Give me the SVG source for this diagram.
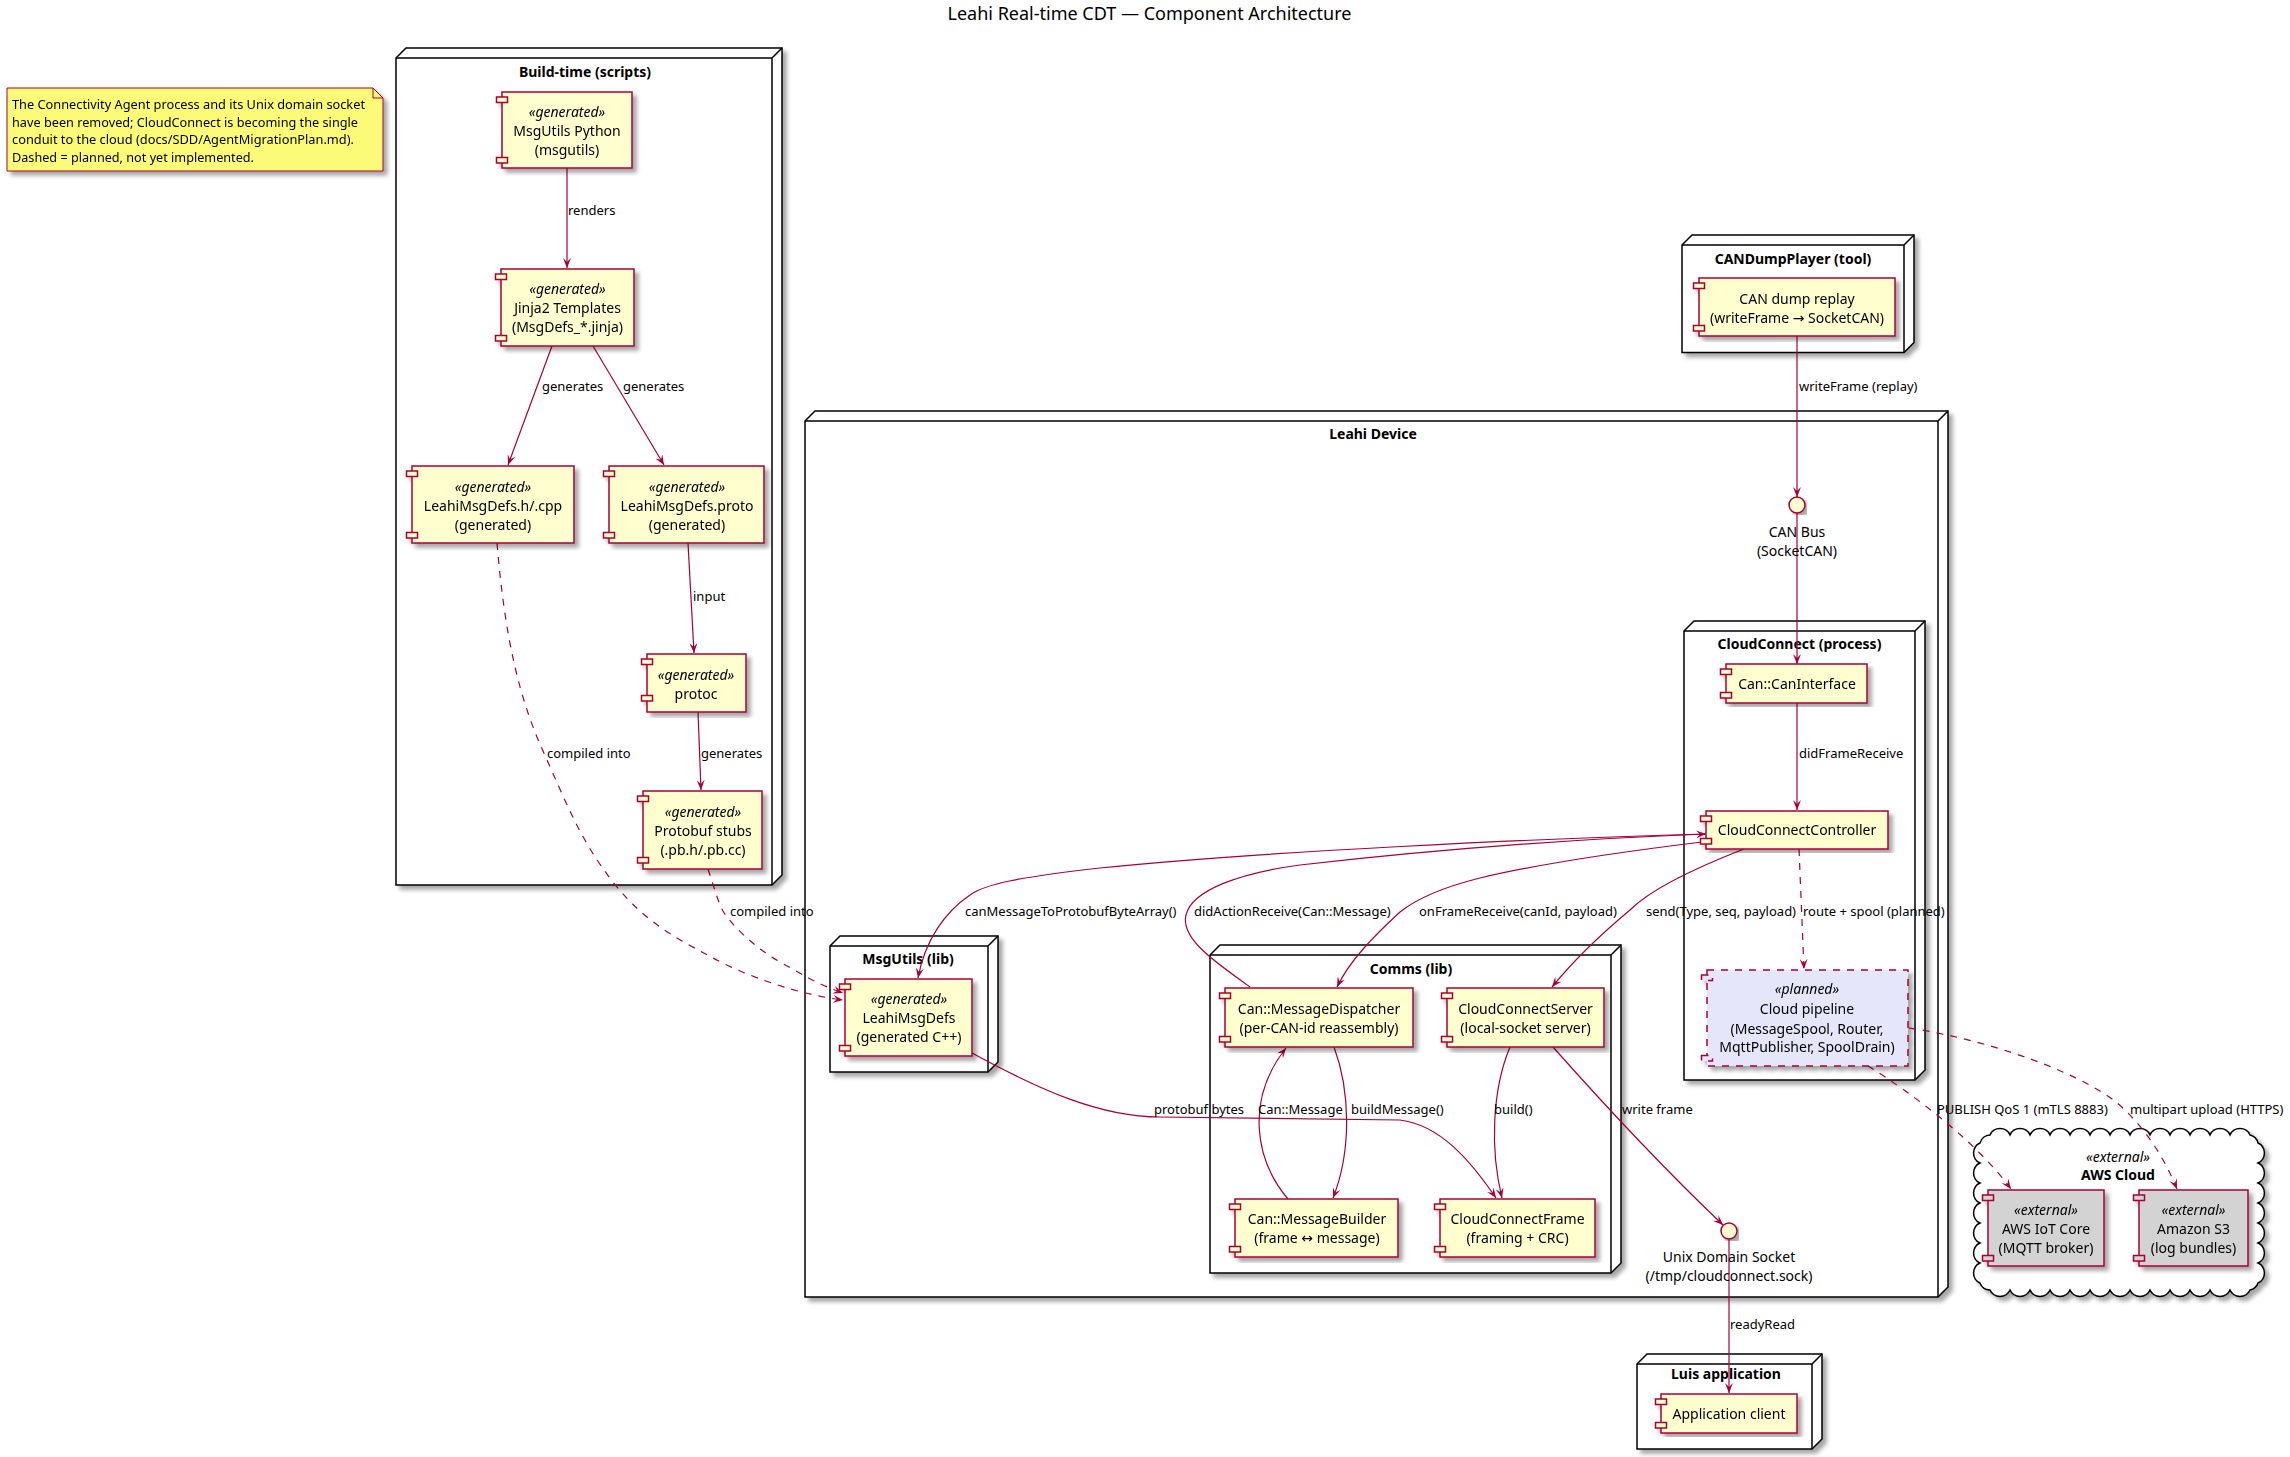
<svg xmlns="http://www.w3.org/2000/svg" width="2290" height="1457" viewBox="0 0 2290 1457">
<defs>
<style>
text{font-family:"Noto Sans","DejaVu Sans",sans-serif;fill:#000}
.title{font-size:18px}
.nt{font-size:14px;font-weight:bold}
.ct{font-size:14px}
.st{font-size:14px;font-style:italic}
.el{font-size:13px}
.note{font-size:13px}
.node{fill:#fff;stroke:#000;stroke-width:1.5}
.nline{fill:none;stroke:#000;stroke-width:1.5}
.cb{fill:#FEFECE;stroke:#A80036;stroke-width:1.5}
.ext{fill:#D3D3D3}
.plan{fill:#E6E6FA;stroke-dasharray:7,7}
.e{fill:none;stroke:#A80036;stroke-width:1.2}
.d{stroke-dasharray:7,7}
.a{marker-end:url(#ah)}
</style>
<marker id="ah" viewBox="0 0 10 8" refX="10" refY="4" markerWidth="10" markerHeight="8" orient="auto" markerUnits="userSpaceOnUse"><path d="M0,0 L10,4 L0,8 L4,4 Z" fill="#A80036"/></marker>
<filter id="sh" x="-5%" y="-5%" width="115%" height="115%"><feGaussianBlur in="SourceAlpha" stdDeviation="2"/><feColorMatrix type="matrix" values="0 0 0 0 0  0 0 0 0 0  0 0 0 0 0  0 0 0 0.35 0"/><feOffset dx="4" dy="4" result="b"/><feMerge><feMergeNode in="b"/><feMergeNode in="SourceGraphic"/></feMerge></filter>
</defs>
<rect width="2290" height="1457" fill="#fff"/>
<text class="title" x="1149.5" y="19.5" text-anchor="middle">Leahi Real-time CDT — Component Architecture</text>

<g id="note" filter="url(#sh)">
<path d="M7,88 L373,88 L383,98 L383,171 L7,171 Z" fill="#FBFB77" stroke="#A80036" stroke-width="1"/>
<path d="M373,88 L373,98 L383,98" fill="none" stroke="#A80036" stroke-width="1"/>
<text class="note" x="12" y="109" textLength="353" lengthAdjust="spacingAndGlyphs">The Connectivity Agent process and its Unix domain socket</text>
<text class="note" x="12" y="126.5" textLength="346" lengthAdjust="spacingAndGlyphs">have been removed; CloudConnect is becoming the single</text>
<text class="note" x="12" y="144" textLength="342" lengthAdjust="spacingAndGlyphs">conduit to the cloud (docs/SDD/AgentMigrationPlan.md).</text>
<text class="note" x="12" y="161.5" textLength="242" lengthAdjust="spacingAndGlyphs">Dashed = planned, not yet implemented.</text>
</g>

<!-- container nodes -->
<g id="buildtime">
<path class="node" filter="url(#sh)" d="M396,58 L406,48 L782,48 L782,875 L772,885 L396,885 Z"/>
<path class="nline" d="M396,58 L772,58 L782,48 M772,58 L772,885"/>
<text class="nt" x="585" y="77" text-anchor="middle">Build-time (scripts)</text>
</g>
<g id="candumpplayer">
<path class="node" filter="url(#sh)" d="M1682,245 L1692,235 L1914,235 L1914,342.5 L1904,352.5 L1682,352.5 Z"/>
<path class="nline" d="M1682,245 L1904,245 L1914,235 M1904,245 L1904,352.5"/>
<text class="nt" x="1793" y="264" text-anchor="middle">CANDumpPlayer (tool)</text>
</g>
<g id="leahidevice">
<path class="node" filter="url(#sh)" d="M805,421 L815,411 L1948,411 L1948,1287 L1938,1297 L805,1297 Z"/>
<path class="nline" d="M805,421 L1938,421 L1948,411 M1938,421 L1938,1297"/>
<text class="nt" x="1373" y="439" text-anchor="middle">Leahi Device</text>
</g>
<g id="cloudconnect">
<path class="node" filter="url(#sh)" d="M1684,631 L1694,621 L1925,621 L1925,1070 L1915,1080 L1684,1080 Z"/>
<path class="nline" d="M1684,631 L1915,631 L1925,621 M1915,631 L1915,1080"/>
<text class="nt" x="1799.5" y="649" text-anchor="middle">CloudConnect (process)</text>
</g>
<g id="msgutilslib">
<path class="node" filter="url(#sh)" d="M830,946 L840,936 L998,936 L998,1062 L988,1072 L830,1072 Z"/>
<path class="nline" d="M830,946 L988,946 L998,936 M988,946 L988,1072"/>
<text class="nt" x="908" y="964" text-anchor="middle">MsgUtils (lib)</text>
</g>
<g id="commslib">
<path class="node" filter="url(#sh)" d="M1210,955 L1220,945 L1621,945 L1621,1263 L1611,1273 L1210,1273 Z"/>
<path class="nline" d="M1210,955 L1611,955 L1621,945 M1611,955 L1611,1273"/>
<text class="nt" x="1411" y="974" text-anchor="middle">Comms (lib)</text>
</g>
<g id="luisapp">
<path class="node" filter="url(#sh)" d="M1637,1364 L1647,1354 L1822,1354 L1822,1439 L1812,1449 L1637,1449 Z"/>
<path class="nline" d="M1637,1364 L1812,1364 L1822,1354 M1812,1364 L1812,1449"/>
<text class="nt" x="1726" y="1379" text-anchor="middle">Luis application</text>
</g>
<g id="awscloud">
<path filter="url(#sh)" fill="#fff" stroke="#000" stroke-width="1.5" d="M1990,1135 A11,11 0 0 1 2010,1135 A11,11 0 0 1 2030,1135 A11,11 0 0 1 2050,1135 A11,11 0 0 1 2070,1135 A11,11 0 0 1 2090,1135 A11,11 0 0 1 2110,1135 A11,11 0 0 1 2130,1135 A11,11 0 0 1 2150,1135 A11,11 0 0 1 2170,1135 A11,11 0 0 1 2190,1135 A11,11 0 0 1 2210,1135 A11,11 0 0 1 2230,1135 A11,11 0 0 1 2250,1135 A11,11 0 0 1 2258,1143 A11,11 0 0 1 2258,1163 A11,11 0 0 1 2258,1183 A11,11 0 0 1 2258,1203 A11,11 0 0 1 2258,1223 A11,11 0 0 1 2258,1243 A11,11 0 0 1 2258,1263 A11,11 0 0 1 2258,1283 A11,11 0 0 1 2250,1290 A11,11 0 0 1 2230,1290 A11,11 0 0 1 2210,1290 A11,11 0 0 1 2190,1290 A11,11 0 0 1 2170,1290 A11,11 0 0 1 2150,1290 A11,11 0 0 1 2130,1290 A11,11 0 0 1 2110,1290 A11,11 0 0 1 2090,1290 A11,11 0 0 1 2070,1290 A11,11 0 0 1 2050,1290 A11,11 0 0 1 2030,1290 A11,11 0 0 1 2010,1290 A11,11 0 0 1 1990,1290 A11,11 0 0 1 1980,1283 A11,11 0 0 1 1980,1263 A11,11 0 0 1 1980,1243 A11,11 0 0 1 1980,1223 A11,11 0 0 1 1980,1203 A11,11 0 0 1 1980,1183 A11,11 0 0 1 1980,1163 A11,11 0 0 1 1980,1143 A11,11 0 0 1 1990,1135 Z"/>
<text class="st" x="2118" y="1161.5" text-anchor="middle">«external»</text>
<text class="nt" x="2118" y="1180" text-anchor="middle">AWS Cloud</text>
</g>

<!-- connectors -->
<g id="connectors">
<path class="e a" d="M567,168 L567,268"/>
<path class="e a" d="M552,346 L508,465"/>
<path class="e a" d="M593,346 L664,465"/>
<path class="e a" d="M688,543 L694,653"/>
<path class="e a" d="M698,712 L701,790"/>
<path class="e d a" d="M497,543 C505,640 520,700 543,751 S580,840 613,882 S680,940 713,958 S800,995 843,1000"/>
<path class="e d a" d="M708,869 C715,890 718,902 723,911 S750,945 780,962 S820,985 843,993"/>
<path class="e a" d="M1797,336 L1797,497"/>
<path class="e a" d="M1797,513 L1797,664"/>
<path class="e a" d="M1797,703 L1797,810"/>
<path class="e d a" d="M1799,849 L1804,969"/>
<path class="e a" d="M1706,834 C1550,838 1250,852 1100,868 C1020,877 985,884 970,895 C945,912 925,940 918,978"/>
<path class="e a" d="M1250,987 C1220,965 1180,940 1186,915 C1192,890 1240,873 1300,865 C1450,848 1600,838 1706,834"/>
<path class="e a" d="M1702,842 C1620,852 1530,866 1480,878 C1440,888 1415,900 1400,912 C1375,935 1350,960 1337,987"/>
<path class="e a" d="M1744,849 C1690,870 1650,890 1630,910 C1600,935 1570,965 1552,987"/>
<path class="e a" d="M1334,1047 C1350,1090 1352,1150 1333,1198"/>
<path class="e a" d="M1288,1199 C1255,1160 1245,1100 1286,1048"/>
<path class="e a" d="M1510,1047 C1492,1090 1490,1150 1502,1198"/>
<path class="e a" d="M972,1053 C1040,1090 1100,1117 1160,1117 L1400,1120 C1440,1125 1470,1160 1496,1198"/>
<path class="e a" d="M1553,1047 C1600,1100 1660,1165 1723,1225"/>
<path class="e a" d="M1729,1239 L1729,1393"/>
<path class="e d a" d="M1868,1066 C1910,1092 1975,1140 2011,1189"/>
<path class="e d a" d="M1909,1028 C1990,1040 2090,1075 2125,1110 C2150,1135 2165,1160 2177,1189"/>
<text class="el" x="568" y="215">renders</text>
<text class="el" x="542" y="391">generates</text>
<text class="el" x="623" y="391">generates</text>
<text class="el" x="693" y="601">input</text>
<text class="el" x="701" y="758">generates</text>
<text class="el" x="547" y="758">compiled into</text>
<text class="el" x="730" y="916">compiled into</text>
<text class="el" x="1799" y="391">writeFrame (replay)</text>
<text class="el" x="1799" y="758">didFrameReceive</text>
<text class="el" x="965" y="916">canMessageToProtobufByteArray()</text>
<text class="el" x="1194" y="916">didActionReceive(Can::Message)</text>
<text class="el" x="1419" y="916">onFrameReceive(canId, payload)</text>
<text class="el" x="1646" y="916">send(Type, seq, payload)</text>
<text class="el" x="1803" y="916">route + spool (planned)</text>
<text class="el" x="1154" y="1113.5">protobuf bytes</text>
<text class="el" x="1258" y="1113.5">Can::Message</text>
<text class="el" x="1351" y="1113.5">buildMessage()</text>
<text class="el" x="1494" y="1113.5">build()</text>
<text class="el" x="1622" y="1114">write frame</text>
<text class="el" x="1937" y="1114">PUBLISH QoS 1 (mTLS 8883)</text>
<text class="el" x="2130" y="1114">multipart upload (HTTPS)</text>
<text class="el" x="1730" y="1329">readyRead</text>
</g>

<!-- leaf components -->
<g id="msgutils_python" filter="url(#sh)">
<rect class="cb" x="502" y="92" width="130" height="76"/>
<rect class="cb" x="496.5" y="97" width="11" height="5.5"/><rect class="cb" x="496.5" y="157.5" width="11" height="5.5"/>
<text class="st" x="567" y="117" text-anchor="middle">«generated»</text>
<text class="ct" x="567" y="136" text-anchor="middle">MsgUtils Python</text>
<text class="ct" x="567" y="155" text-anchor="middle">(msgutils)</text>
</g>
<g id="jinja2" filter="url(#sh)">
<rect class="cb" x="501" y="269" width="133" height="77"/>
<rect class="cb" x="495.5" y="274" width="11" height="5.5"/><rect class="cb" x="495.5" y="335.5" width="11" height="5.5"/>
<text class="st" x="567.5" y="294" text-anchor="middle">«generated»</text>
<text class="ct" x="567.5" y="313" text-anchor="middle">Jinja2 Templates</text>
<text class="ct" x="567.5" y="332" text-anchor="middle">(MsgDefs_*.jinja)</text>
</g>
<g id="leahimsgdefs_hcpp" filter="url(#sh)">
<rect class="cb" x="412" y="466" width="162" height="77"/>
<rect class="cb" x="406.5" y="471" width="11" height="5.5"/><rect class="cb" x="406.5" y="532.5" width="11" height="5.5"/>
<text class="st" x="493" y="491.5" text-anchor="middle">«generated»</text>
<text class="ct" x="493" y="511" text-anchor="middle">LeahiMsgDefs.h/.cpp</text>
<text class="ct" x="493" y="530" text-anchor="middle">(generated)</text>
</g>
<g id="leahimsgdefs_proto" filter="url(#sh)">
<rect class="cb" x="609" y="466" width="155" height="77"/>
<rect class="cb" x="603.5" y="471" width="11" height="5.5"/><rect class="cb" x="603.5" y="532.5" width="11" height="5.5"/>
<text class="st" x="687" y="491.5" text-anchor="middle">«generated»</text>
<text class="ct" x="687" y="511" text-anchor="middle">LeahiMsgDefs.proto</text>
<text class="ct" x="687" y="530" text-anchor="middle">(generated)</text>
</g>
<g id="protoc" filter="url(#sh)">
<rect class="cb" x="647" y="654" width="99" height="58"/>
<rect class="cb" x="641.5" y="659" width="11" height="5.5"/><rect class="cb" x="641.5" y="695.5" width="11" height="5.5"/>
<text class="st" x="696" y="680" text-anchor="middle">«generated»</text>
<text class="ct" x="696" y="699" text-anchor="middle">protoc</text>
</g>
<g id="protobuf_stubs" filter="url(#sh)">
<rect class="cb" x="643" y="791" width="119" height="78"/>
<rect class="cb" x="637.5" y="796" width="11" height="5.5"/><rect class="cb" x="637.5" y="857.5" width="11" height="5.5"/>
<text class="st" x="703" y="816.5" text-anchor="middle">«generated»</text>
<text class="ct" x="703" y="835.5" text-anchor="middle">Protobuf stubs</text>
<text class="ct" x="703" y="855" text-anchor="middle">(.pb.h/.pb.cc)</text>
</g>
<g id="can_dump_replay" filter="url(#sh)">
<rect class="cb" x="1699" y="278" width="196" height="58"/>
<rect class="cb" x="1693.5" y="283" width="11" height="5.5"/><rect class="cb" x="1693.5" y="325.5" width="11" height="5.5"/>
<text class="ct" x="1797" y="304" text-anchor="middle">CAN dump replay</text>
<text class="ct" x="1797" y="323" text-anchor="middle">(writeFrame → SocketCAN)</text>
</g>
<g id="can_bus">
<circle cx="1797" cy="505" r="8" fill="#FEFECE" stroke="#A80036" stroke-width="1.5" filter="url(#sh)"/>
<text class="ct" x="1797" y="537" text-anchor="middle">CAN Bus</text>
<text class="ct" x="1797" y="556" text-anchor="middle">(SocketCAN)</text>
</g>
<g id="can_interface" filter="url(#sh)">
<rect class="cb" x="1726" y="664" width="141" height="39"/>
<rect class="cb" x="1720.5" y="669" width="11" height="5.5"/><rect class="cb" x="1720.5" y="692.5" width="11" height="5.5"/>
<text class="ct" x="1797" y="689" text-anchor="middle">Can::CanInterface</text>
</g>
<g id="cloudconnect_controller" filter="url(#sh)">
<rect class="cb" x="1706" y="811" width="182" height="38"/>
<rect class="cb" x="1700.5" y="816" width="11" height="5.5"/><rect class="cb" x="1700.5" y="838.5" width="11" height="5.5"/>
<text class="ct" x="1797" y="835" text-anchor="middle">CloudConnectController</text>
</g>
<g id="cloud_pipeline" filter="url(#sh)">
<rect class="cb plan" x="1707" y="970" width="201" height="96"/>
<rect class="cb plan" x="1701.5" y="975" width="11" height="5.5"/><rect class="cb plan" x="1701.5" y="1055.5" width="11" height="5.5"/>
<text class="st" x="1807" y="994" text-anchor="middle">«planned»</text>
<text class="ct" x="1807" y="1014" text-anchor="middle">Cloud pipeline</text>
<text class="ct" x="1807" y="1034" text-anchor="middle">(MessageSpool, Router,</text>
<text class="ct" x="1807" y="1052" text-anchor="middle">MqttPublisher, SpoolDrain)</text>
</g>
<g id="leahimsgdefs_cpp" filter="url(#sh)">
<rect class="cb" x="845" y="979" width="127" height="77"/>
<rect class="cb" x="839.5" y="984" width="11" height="5.5"/><rect class="cb" x="839.5" y="1045.5" width="11" height="5.5"/>
<text class="st" x="909" y="1004" text-anchor="middle">«generated»</text>
<text class="ct" x="909" y="1023" text-anchor="middle">LeahiMsgDefs</text>
<text class="ct" x="909" y="1042" text-anchor="middle">(generated C++)</text>
</g>
<g id="message_dispatcher" filter="url(#sh)">
<rect class="cb" x="1225" y="988" width="188" height="59"/>
<rect class="cb" x="1219.5" y="993" width="11" height="5.5"/><rect class="cb" x="1219.5" y="1036.5" width="11" height="5.5"/>
<text class="ct" x="1319" y="1014" text-anchor="middle">Can::MessageDispatcher</text>
<text class="ct" x="1319" y="1033" text-anchor="middle">(per-CAN-id reassembly)</text>
</g>
<g id="cloudconnect_server" filter="url(#sh)">
<rect class="cb" x="1447" y="988" width="157" height="59"/>
<rect class="cb" x="1441.5" y="993" width="11" height="5.5"/><rect class="cb" x="1441.5" y="1036.5" width="11" height="5.5"/>
<text class="ct" x="1525.5" y="1014" text-anchor="middle">CloudConnectServer</text>
<text class="ct" x="1525.5" y="1033" text-anchor="middle">(local-socket server)</text>
</g>
<g id="message_builder" filter="url(#sh)">
<rect class="cb" x="1235" y="1199" width="163" height="58"/>
<rect class="cb" x="1229.5" y="1204" width="11" height="5.5"/><rect class="cb" x="1229.5" y="1246.5" width="11" height="5.5"/>
<text class="ct" x="1317" y="1224" text-anchor="middle">Can::MessageBuilder</text>
<text class="ct" x="1317" y="1243" text-anchor="middle">(frame ↔ message)</text>
</g>
<g id="cloudconnect_frame" filter="url(#sh)">
<rect class="cb" x="1440" y="1199" width="155" height="58"/>
<rect class="cb" x="1434.5" y="1204" width="11" height="5.5"/><rect class="cb" x="1434.5" y="1246.5" width="11" height="5.5"/>
<text class="ct" x="1517.5" y="1224" text-anchor="middle">CloudConnectFrame</text>
<text class="ct" x="1517.5" y="1243" text-anchor="middle">(framing + CRC)</text>
</g>
<g id="unix_socket">
<circle cx="1729" cy="1231" r="8" fill="#FEFECE" stroke="#A80036" stroke-width="1.5" filter="url(#sh)"/>
<text class="ct" x="1729" y="1261.5" text-anchor="middle">Unix Domain Socket</text>
<text class="ct" x="1729" y="1281" text-anchor="middle">(/tmp/cloudconnect.sock)</text>
</g>
<g id="application_client" filter="url(#sh)">
<rect class="cb" x="1661" y="1394" width="136" height="39"/>
<rect class="cb" x="1655.5" y="1399" width="11" height="5.5"/><rect class="cb" x="1655.5" y="1422.5" width="11" height="5.5"/>
<text class="ct" x="1729" y="1419" text-anchor="middle">Application client</text>
</g>
<g id="aws_iot_core" filter="url(#sh)">
<rect class="cb ext" x="1988" y="1190" width="116" height="76"/>
<rect class="cb ext" x="1982.5" y="1195" width="11" height="5.5"/><rect class="cb ext" x="1982.5" y="1255.5" width="11" height="5.5"/>
<text class="st" x="2046" y="1215" text-anchor="middle">«external»</text>
<text class="ct" x="2046" y="1234" text-anchor="middle">AWS IoT Core</text>
<text class="ct" x="2046" y="1253" text-anchor="middle">(MQTT broker)</text>
</g>
<g id="amazon_s3" filter="url(#sh)">
<rect class="cb ext" x="2139" y="1190" width="109" height="76"/>
<rect class="cb ext" x="2133.5" y="1195" width="11" height="5.5"/><rect class="cb ext" x="2133.5" y="1255.5" width="11" height="5.5"/>
<text class="st" x="2193.5" y="1215" text-anchor="middle">«external»</text>
<text class="ct" x="2193.5" y="1234" text-anchor="middle">Amazon S3</text>
<text class="ct" x="2193.5" y="1253" text-anchor="middle">(log bundles)</text>
</g>
</svg>
